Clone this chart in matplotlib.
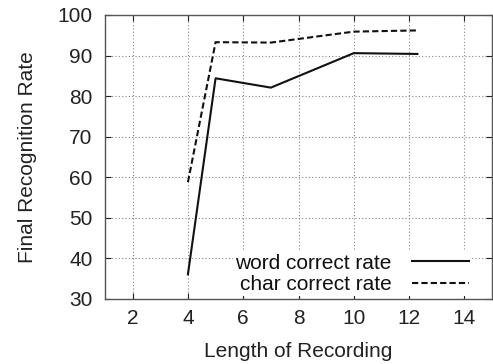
import matplotlib
matplotlib.use("Agg")
import matplotlib.pyplot as plt

# data
length = [4, 5, 7, 10, 12.3]
word_rate = [36.1, 84.4, 82.1, 90.6, 90.4]
char_rate = [58.8, 93.3, 93.2, 95.9, 96.2]
xticks = [2, 4, 6, 8, 10, 12, 14]
yticks = [30, 40, 50, 60, 70, 80, 90, 100]

plt.rcParams['font.family'] = ['Liberation Sans', 'DejaVu Sans']
plt.rcParams['font.size'] = 15

fig = plt.figure(figsize=(4.93, 3.64), dpi=100)
ax = fig.add_axes([105 / 493, 1 - 299 / 364, 387 / 493, 284 / 364])

ax.plot(length, word_rate, color='#111111', lw=1.5, ls='-', label='word correct rate')
ax.plot(length, char_rate, color='#111111', lw=1.5, ls=(0, (3, 1.5)), label='char correct rate')

ax.set_xlim(1, 15)
ax.set_ylim(30, 100)
ax.set_xticks(xticks)
ax.set_yticks(yticks)
ax.grid(True, color='#888888', ls=(0, (1, 2)), lw=0.8)
ax.tick_params(direction='in', length=4, top=True, right=True, colors='#222222')
ax.tick_params(axis='y', pad=9)
ax.tick_params(axis='x', pad=7)
for s in ax.spines.values():
    s.set_color('#555555')
    s.set_linewidth(1.0)

ax.set_xlabel('Length of Recording', color='#222222', labelpad=10)
ax.set_ylabel('Final Recognition Rate', color='#222222', labelpad=15)

leg = ax.legend(loc='lower right', bbox_to_anchor=(0.945, 0.01), markerfirst=False,
                frameon=True, fancybox=False, edgecolor='none', framealpha=1,
                handlelength=2.7, borderpad=0.1, labelspacing=0.12,
                handletextpad=1.0, borderaxespad=0)
for t in leg.get_texts():
    t.set_ha('right')
    t.set_color('#111111')
leg._legend_box.align = 'right'

fig.savefig('out.png', dpi=100)
